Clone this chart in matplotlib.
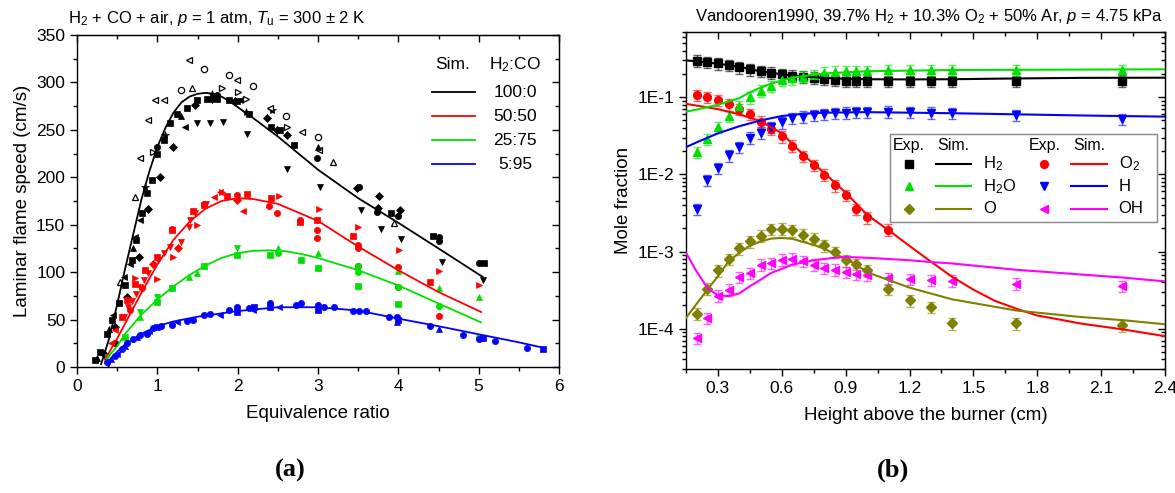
import numpy as np
import matplotlib
matplotlib.use("Agg")
import matplotlib.pyplot as plt
from matplotlib.ticker import MultipleLocator, LogLocator, FuncFormatter, NullFormatter

plt.rcParams['font.family'] = ['Liberation Sans', 'DejaVu Sans']
plt.rcParams['mathtext.fontset'] = 'custom'
plt.rcParams['mathtext.rm'] = 'Liberation Sans'
plt.rcParams['mathtext.it'] = 'Liberation Sans:italic'

# ---------------- panel (a): laminar flame speed ----------------
mix_labels = ['100:0', '50:50', '25:75', '5:95']
mix_colors = ['#000000', '#ff0000', '#00e000', '#0000ff']

# simulated flame speeds
sim100_phi = [0.3, 0.4, 0.5, 0.6, 0.7, 0.8, 0.9, 1.0, 1.1, 1.2, 1.3, 1.4, 1.5, 1.6, 1.7, 1.8, 1.9, 2.0, 2.2, 2.5, 3.0, 3.5, 4.0, 4.5, 5.05]
sim100_s = [3, 30, 66, 104, 140, 176, 206, 232, 252, 268, 279, 285, 288, 289, 288, 285, 280, 274, 262, 243, 208, 178, 152, 125, 95]
sim50_phi = [0.35, 0.5, 0.6, 0.7, 0.8, 0.9, 1.0, 1.2, 1.4, 1.6, 1.8, 2.0, 2.2, 2.5, 3.0, 3.5, 4.0, 4.5, 5.03]
sim50_s = [8, 30, 46, 62, 78, 93, 108, 134, 153, 167, 175, 178, 177, 172, 154, 127, 102, 79, 58]
sim25_phi = [0.37, 0.5, 0.6, 0.8, 1.0, 1.2, 1.4, 1.6, 1.8, 2.0, 2.2, 2.4, 2.6, 2.8, 3.0, 3.5, 4.0, 4.5, 5.03]
sim25_s = [9, 22, 35, 55, 71, 85, 97, 107, 115, 120, 122.5, 123, 122, 119, 115, 102, 86, 67, 47]
sim5_phi = [0.37, 0.5, 0.6, 0.8, 1.0, 1.2, 1.5, 2.0, 2.5, 3.0, 3.5, 4.0, 4.5, 5.0, 5.5, 5.82]
sim5_s = [4, 16, 24, 35, 43, 48, 53, 59, 63, 63, 59.5, 51, 43, 34.5, 26, 20]

# experimental flame speeds, marker codes:
# s square, o circle, D diamond, v/^/</> triangles, * star, O/L/T/R open circle/left/up/right
exp100_phi = [1.39, 1.58, 1.89, 1.99, 2.19, 0.97, 1.08, 1.29, 1.43, 1.80, 0.89, 0.79, 0.72, 0.53, 2.40, 2.60, 2.80, 3.00, 0.95, 2.62, 3.01, 3.19, 3.94, 2.00, 2.10,
              0.22, 0.29, 0.37, 0.43, 0.52, 0.60, 0.68, 0.74, 0.81, 0.87, 0.93, 0.99, 1.08, 1.16, 1.24, 1.37, 1.49, 1.62, 1.74, 1.89, 1.99, 2.14, 2.41, 2.53, 2.70, 3.91, 4.43, 5.07,
              0.33, 0.47, 0.62, 0.77, 0.89, 1.03, 1.20, 1.47, 1.68, 1.97, 2.37, 2.49, 2.62, 3.76, 3.75, 4.02, 3.48,
              1.49, 1.65, 1.82, 2.12, 2.62, 3.02, 3.53, 3.78, 4.03, 4.54, 5.05,
              1.68, 2.10, 2.43, 1.10, 0.85,
              0.66, 0.72, 0.79, 1.35, 2.03, 0.45, 0.58,
              0.47, 0.99, 1.74, 2.99, 3.51, 4.00, 4.50, 4.50, 5.00, 3.73,
              0.25, 0.40, 0.70, 1.30, 3.00]
exp100_s = [324, 314, 308, 303, 296, 282, 282, 292, 294, 294, 260, 220, 179, 90, 273, 265, 248, 242, 227, 253, 229, 216, 152, 290, 283,
            7, 16, 35, 50, 67, 86, 113, 134, 162, 183, 197, 225, 239, 257, 267, 273, 281, 283, 283, 281, 280, 267, 253, 250, 234, 162, 138, 110,
            14, 42, 74, 116, 167, 200, 232, 276, 283, 280, 262, 250, 245, 180, 168, 166, 189,
            257, 257, 258, 246, 209, 190, 166, 146, 135, 111, 92,
            288, 269, 271, 245, 190,
            109, 137, 155, 253, 281, 55, 95,
            25, 232, 287, 220, 190, 159, 137, 133, 110, 163,
            10, 40, 125, 265, 232]
exp100_mk = ("LOOLOLLOTRLLTTLOLORRLTTR"
             + "R"
             + "s" * 28 + "D" * 17 + "v" * 11 + "*" * 5 + "<" * 7 + "o" * 10 + "^" * 5)

exp50_phi = [0.56, 0.62, 0.72, 0.85, 0.99, 1.18, 1.45, 1.58, 1.87, 2.12, 2.41, 2.78, 2.99, 3.44, 4.39,
             0.66, 0.81, 1.18, 1.58, 1.99, 2.39, 2.49, 2.78, 2.99, 2.99, 3.50, 3.50, 3.50, 4.00, 4.00, 4.50,
             0.72, 0.99, 1.20, 1.49, 1.80, 2.51, 3.01, 3.50, 4.01, 4.51, 5.01,
             0.47, 1.70, 1.78, 2.07, 0.42,
             1.99, 1.26, 0.95,
             0.58, 0.64, 0.68, 0.74, 0.79, 0.83, 0.89, 1.01, 1.08, 1.16, 1.30, 1.39, 1.41, 1.47, 1.60]
exp50_s = [53, 71, 88, 102, 116, 144, 164, 171, 180, 182, 178, 153, 155, 138, 90,
           60, 83, 146, 172, 181, 170, 162, 155, 144, 136, 129, 125, 106, 105, 84, 54,
           94, 93, 116, 150, 185, 180, 167, 148, 123, 101, 86,
           39, 179, 185, 164, 25,
           176, 125, 109,
           53, 63, 70, 77, 84, 92, 99, 113, 120, 127, 132, 148, 155, 162, 172]
exp50_mk = "s" * 15 + "o" * 16 + ">" * 11 + "<" * 5 + "D" * 3 + "v" * 15

exp25_phi = [0.37, 0.79, 0.99, 1.99,
             0.60, 0.99, 1.18, 1.58, 1.99, 2.40, 2.79, 3.00, 3.50, 4.00,
             0.79, 1.49, 2.50, 3.00, 4.00, 4.50, 5.01, 1.39,
             2.50, 3.50, 3.50, 4.00, 4.50, 5.01]
exp25_s = [11, 58, 74, 125,
           32, 69, 83, 106, 118, 118, 113, 104, 85, 66,
           53, 99, 125, 120, 101, 83, 74, 95,
           120, 106, 100, 84, 64, 32]
exp25_mk = "v" * 4 + "s" * 10 + "^" * 8 + "o" * 6

exp5_phi = [0.37, 0.47, 0.56, 0.62, 0.70, 0.79, 0.87, 0.95, 1.04, 1.18, 1.37, 1.45, 1.58, 1.66, 1.89, 1.99, 2.14, 2.40, 2.72, 2.79, 3.00, 3.07, 3.20,
            3.44, 3.51, 3.60, 3.89, 3.98, 4.39, 4.80, 5.00, 5.20, 5.60,
            0.99, 1.99, 2.40, 3.00, 4.00, 5.05, 5.80, 2.20,
            1.78, 2.19, 2.51, 0.50, 0.90, 1.25,
            3.98, 4.51, 0.42, 0.60, 0.75,
            0.38]
exp5_s = [5, 12, 19, 25, 30, 34, 35, 41, 43, 44, 49, 50, 55, 56, 60, 63, 62, 67, 65, 67, 65, 63, 63,
          59, 59, 59, 53, 53, 43, 34, 29, 27, 20,
          42, 58, 63, 60, 50, 31, 19, 63,
          55, 60, 63, 14, 38, 47,
          47, 40, 8, 22, 32,
          3]
exp5_mk = "o" * 33 + "s" * 8 + "<" * 6 + "^" * 5 + "v"

# ---------------- panel (b): Vandooren1990 species profiles ----------------
hab = [0.2, 0.25, 0.3, 0.35, 0.4, 0.45, 0.5, 0.55, 0.6, 0.65, 0.7, 0.75, 0.8, 0.85, 0.9, 0.95, 1.0,
       1.1, 1.2, 1.3, 1.4, 1.7, 2.2]
h2_exp = [0.297, 0.284, 0.275, 0.262, 0.244, 0.230, 0.219, 0.208, 0.198, 0.190, 0.185, 0.179, 0.171, 0.167, 0.164, 0.162, 0.161,
          0.161, 0.161, 0.161, 0.161, 0.162, 0.164]
h2o_exp = [0.0196, 0.0289, 0.0409, 0.0573, 0.0760, 0.0995, 0.122, 0.140, 0.167, 0.176, 0.185, 0.195, 0.208, 0.214, 0.219, 0.219, 0.219,
           0.225, 0.225, 0.225, 0.225, 0.225, 0.225]
o2_exp = [0.107, 0.100, 0.092, 0.081, 0.0706, 0.0608, 0.0484, 0.0386, 0.031, 0.0235, 0.0174, 0.0133, 0.00988, 0.00719, 0.0054,
          0.00356, 0.00277, 0.00192]
h_exp = [0.00356, 0.0085, 0.012, 0.0176, 0.0225, 0.030, 0.0348, 0.041, 0.047, 0.0535, 0.056, 0.059, 0.061, 0.062, 0.063, 0.064, 0.064,
         0.065, 0.064, 0.063, 0.062, 0.0585, 0.052]
o_exp = [1.56e-4, 3.31e-4, 5.71e-4, 8.0e-4, 1.10e-3, 1.35e-3, 1.61e-3, 1.96e-3, 1.98e-3, 1.88e-3, 1.65e-3, 1.47e-3, 1.20e-3, 9.9e-4,
         7.7e-4, 6.9e-4, 5.7e-4, 3.28e-4, 2.32e-4, 1.92e-4, 1.17e-4, 1.17e-4, 1.10e-4]
oh_exp = [7.6e-5, 1.38e-4, 2.69e-4, 3.21e-4, 4.69e-4, 5.28e-4, 6.77e-4, 7.1e-4, 7.86e-4, 8.1e-4, 7.48e-4, 6.77e-4, 6.14e-4, 5.84e-4,
          5.39e-4, 5.18e-4, 5.02e-4, 4.5e-4, 4.42e-4, 4.25e-4, 4.2e-4, 3.84e-4, 3.55e-4]

h2_sim_x = [0.15, 0.2, 0.3, 0.4, 0.5, 0.6, 0.7, 0.8, 0.9, 1.0, 1.2, 1.4, 1.7, 2.0, 2.4]
h2_sim = [0.300, 0.292, 0.272, 0.248, 0.216, 0.198, 0.186, 0.178, 0.173, 0.171, 0.170, 0.171, 0.175, 0.178, 0.179]
h2o_sim_x = [0.15, 0.2, 0.3, 0.4, 0.45, 0.5, 0.55, 0.65, 0.8, 1.0, 1.4, 2.4]
h2o_sim = [0.065, 0.069, 0.080, 0.097, 0.116, 0.133, 0.150, 0.180, 0.203, 0.217, 0.225, 0.230]
o2_sim_x = [0.15, 0.3, 0.4, 0.5, 0.6, 0.7, 0.8, 0.9, 1.0, 1.1, 1.2, 1.3, 1.4, 1.5, 1.6, 1.7, 1.8, 1.9, 2.0, 2.2, 2.4]
o2_sim = [0.082, 0.070, 0.060, 0.049, 0.034, 0.018, 0.0104, 0.0058, 0.0030, 0.0019, 0.00118, 7.4e-4, 4.7e-4, 3.2e-4, 2.3e-4,
          1.82e-4, 1.48e-4, 1.32e-4, 1.17e-4, 9.8e-5, 8.0e-5]
h_sim_x = [0.15, 0.2, 0.3, 0.4, 0.5, 0.6, 0.7, 0.8, 1.0, 1.2, 1.4, 1.7, 2.0, 2.4]
h_sim = [0.0225, 0.026, 0.034, 0.042, 0.050, 0.057, 0.061, 0.063, 0.064, 0.063, 0.062, 0.060, 0.058, 0.056]
o_sim_x = [0.15, 0.25, 0.3, 0.35, 0.4, 0.45, 0.5, 0.55, 0.6, 0.65, 0.7, 0.75, 0.8, 0.85, 0.9, 0.95, 1.0, 1.2, 1.4, 1.7, 2.0, 2.2, 2.4]
o_sim = [1.38e-4, 3.19e-4, 4.78e-4, 7.46e-4, 9.6e-4, 1.19e-3, 1.35e-3, 1.47e-3, 1.50e-3, 1.46e-3, 1.33e-3, 1.22e-3, 1.08e-3,
         9.3e-4, 8.0e-4, 6.8e-4, 5.4e-4, 3.4e-4, 2.4e-4, 1.72e-4, 1.42e-4, 1.29e-4, 1.14e-4]
oh_sim_x = [0.15, 0.2, 0.25, 0.3, 0.35, 0.4, 0.45, 0.5, 0.55, 0.6, 0.65, 0.7, 0.75, 0.8, 0.85, 0.9, 0.95, 1.0, 1.1, 1.2, 1.3,
            1.4, 1.7, 2.2, 2.4]
oh_sim = [9.6e-4, 5.5e-4, 3.39e-4, 2.69e-4, 2.65e-4, 2.86e-4, 3.55e-4, 4.3e-4, 5.27e-4, 5.96e-4, 6.77e-4, 7.2e-4, 7.7e-4, 8.0e-4,
          8.3e-4, 8.5e-4, 8.4e-4, 8.3e-4, 8.0e-4, 7.7e-4, 7.3e-4, 7.0e-4, 5.8e-4, 4.6e-4, 4.1e-4]

species = ['H$_2$', 'O$_2$', 'H$_2$O', 'H', 'O', 'OH']
sp_colors = ['#000000', '#ff0000', '#00e000', '#0000ff', '#808000', '#ff00ff']
sp_markers = ['s', 'o', '^', 'v', 'D', '<']
sp_ms = {'s': 5.2, 'o': 5.6, '^': 6.2, 'v': 6.2, 'D': 4.8, '<': 6.2}

fig = plt.figure(figsize=(11.75, 4.93), dpi=100)
ax1 = fig.add_axes([77 / 1175, 1 - 367 / 493, 482 / 1175, 332 / 493])
ax2 = fig.add_axes([686 / 1175, 1 - 369 / 493, 479 / 1175, 337 / 493])

FS_TICK = 12.5
FS_LAB = 13.5

code_map = {'s': ('s', True), 'o': ('o', True), 'D': ('D', True), 'v': ('v', True), '^': ('^', True),
            '<': ('<', True), '>': ('>', True), '*': ('*', True),
            'O': ('o', False), 'L': ('<', False), 'T': ('^', False), 'R': ('>', False)}


def scatter_exp(ax, phi, s, codes, color):
    phi = np.asarray(phi)
    s = np.asarray(s)
    codes = np.array(list(codes))
    for c in np.unique(codes):
        m, filled = code_map[c]
        sel = codes == c
        ms = 6 if m == '*' else (3.8 if m == 'D' else 4.5)
        ax.plot(phi[sel], s[sel], linestyle='none', marker=m, ms=ms,
                mfc=color if filled else 'white', mec=color, mew=0.9 if not filled else 0.5, zorder=2)


sims = [(sim100_phi, sim100_s), (sim50_phi, sim50_s), (sim25_phi, sim25_s), (sim5_phi, sim5_s)]
exps = [(exp100_phi, exp100_s, exp100_mk), (exp50_phi, exp50_s, exp50_mk),
        (exp25_phi, exp25_s, exp25_mk), (exp5_phi, exp5_s, exp5_mk)]
for (ep, es, em), (sp, ss), col in zip(exps, sims, mix_colors):
    scatter_exp(ax1, ep, es, em, col)
    ax1.plot(sp, ss, color=col, lw=1.3, zorder=3)

ax1.set_xlim(0, 6)
ax1.set_ylim(0, 350)
ax1.xaxis.set_major_locator(MultipleLocator(1))
ax1.xaxis.set_minor_locator(MultipleLocator(0.5))
ax1.yaxis.set_major_locator(MultipleLocator(50))
ax1.yaxis.set_minor_locator(MultipleLocator(25))
ax1.set_xlabel('Equivalence ratio', fontsize=FS_LAB, labelpad=8)
ax1.set_ylabel('Laminar flame speed (cm/s)', fontsize=FS_LAB, labelpad=4)

# legend (a)
ax1.text(0.78, 0.911, 'Sim.', transform=ax1.transAxes, ha='center', va='center', fontsize=FS_TICK)
ax1.text(0.909, 0.911, 'H$_2$:CO', transform=ax1.transAxes, ha='center', va='center', fontsize=FS_TICK)
for i, (lab, col) in enumerate(zip(mix_labels, mix_colors)):
    yy = 0.827 - i * 0.072
    ax1.plot([0.736, 0.826], [yy, yy], color=col, lw=1.3, transform=ax1.transAxes)
    ax1.text(0.909, yy, lab, transform=ax1.transAxes, ha='center', va='center', fontsize=FS_TICK)

# panel (b)
exp_b = [(hab, h2_exp), (hab[:len(o2_exp)], o2_exp), (hab, h2o_exp), (hab, h_exp), (hab, o_exp), (hab, oh_exp)]
sim_b = [(h2_sim_x, h2_sim), (o2_sim_x, o2_sim), (h2o_sim_x, h2o_sim), (h_sim_x, h_sim), (o_sim_x, o_sim), (oh_sim_x, oh_sim)]
for (ex, ey), (sx, sy), col, mk in zip(exp_b, sim_b, sp_colors, sp_markers):
    ey = np.asarray(ey)
    ax2.errorbar(ex, ey, yerr=0.17 * ey, fmt='none', ecolor=col, alpha=0.6, elinewidth=1.0, capsize=2.8, zorder=2)
    ax2.plot(ex, ey, linestyle='none', marker=mk, ms=sp_ms[mk], color=col, zorder=3)
    ax2.plot(sx, sy, color=col, lw=1.5, zorder=4)

ax2.set_yscale('log')
ax2.set_xlim(0.15, 2.4)
ax2.set_ylim(3e-5, 0.7)
ax2.xaxis.set_major_locator(MultipleLocator(0.3))
ax2.xaxis.set_minor_locator(MultipleLocator(0.15))
ax2.yaxis.set_major_locator(LogLocator(base=10, numticks=10))
ax2.yaxis.set_minor_locator(LogLocator(base=10, subs=np.arange(2, 10), numticks=20))
ax2.yaxis.set_major_formatter(FuncFormatter(lambda v, _: '1E%d' % int(round(np.log10(v)))))
ax2.yaxis.set_minor_formatter(NullFormatter())
ax2.xaxis.set_major_formatter(FuncFormatter(lambda v, _: '%.1f' % v))
ax2.set_xlabel('Height above the burner (cm)', fontsize=FS_LAB, labelpad=8)
ax2.set_ylabel('Mole fraction', fontsize=FS_LAB, labelpad=4)

# legend (b), drawn by hand
leg = plt.Rectangle((0.4256, 0.436), 0.5574, 0.261, transform=ax2.transAxes, facecolor='white',
                    edgecolor='#888888', lw=1.0, zorder=5)
ax2.add_patch(leg)
for cx in (0.0, 0.283):
    ax2.text(0.465 + cx, 0.662, 'Exp.', transform=ax2.transAxes, ha='center', va='center', fontsize=FS_TICK - 1, zorder=6)
    ax2.text(0.558 + cx, 0.662, 'Sim.', transform=ax2.transAxes, ha='center', va='center', fontsize=FS_TICK - 1, zorder=6)
for i in range(6):
    col_i, row = i % 2, i // 2
    cx = 0.283 * col_i
    yy = 0.608 - row * 0.066
    ax2.plot([0.465 + cx], [yy], marker=sp_markers[i], ms=sp_ms[sp_markers[i]], color=sp_colors[i],
             transform=ax2.transAxes, zorder=6, clip_on=False)
    ax2.plot([0.521 + cx, 0.595 + cx], [yy, yy], color=sp_colors[i], lw=1.5, transform=ax2.transAxes, zorder=6)
    ax2.text(0.62 + cx, yy, species[i], transform=ax2.transAxes, ha='left', va='center', fontsize=FS_TICK - 0.5, zorder=6)

for ax in (ax1, ax2):
    ax.tick_params(which='both', direction='out', labelsize=FS_TICK, top=False, right=False)
    ax.tick_params(which='major', length=5, width=1)
    ax.tick_params(which='minor', length=3, width=1)
    for sp in ax.spines.values():
        sp.set_linewidth(1.0)
    sx = ax.secondary_xaxis('top')
    sy = ax.secondary_yaxis('right')
    for sec in (sx, sy):
        sec.tick_params(which='both', direction='in', labelsize=0)
        sec.tick_params(which='major', length=5, width=1)
        sec.tick_params(which='minor', length=3, width=1)
    sx.set_xticks(ax.get_xticks(), labels=[])
    sx.set_xticks(ax.get_xticks(minor=True), minor=True)
    sy.set_yticks(ax.get_yticks(), labels=[])
    sy.set_yticks(ax.get_yticks(minor=True), minor=True)
    sy.yaxis.set_minor_formatter(NullFormatter())
    sx.xaxis.set_minor_formatter(NullFormatter())

# the secondary axes may move the limits, so put them back
ax2.set_ylim(3e-5, 0.7)
ax1.set_xlim(0, 6)
ax1.set_ylim(0, 350)
ax2.set_xlim(0.15, 2.4)

fig.text(68 / 1175, 1 - 18 / 493, 'H$_2$ + CO + air, $p$ = 1 atm, $T_\\mathrm{u}$ = 300 ± 2 K',
         ha='left', va='center', fontsize=12)
fig.text(1163 / 1175, 1 - 17 / 493, 'Vandooren1990, 39.7% H$_2$ + 10.3% O$_2$ + 50% Ar, $p$ = 4.75 kPa',
         ha='right', va='center', fontsize=12)
fig.text(290 / 1175, 1 - 470 / 493, '(a)', ha='center', va='center', fontsize=19, fontweight='bold',
         family='Liberation Serif')
fig.text(893 / 1175, 1 - 470 / 493, '(b)', ha='center', va='center', fontsize=19, fontweight='bold',
         family='Liberation Serif')

fig.savefig('out.png', dpi=100)
